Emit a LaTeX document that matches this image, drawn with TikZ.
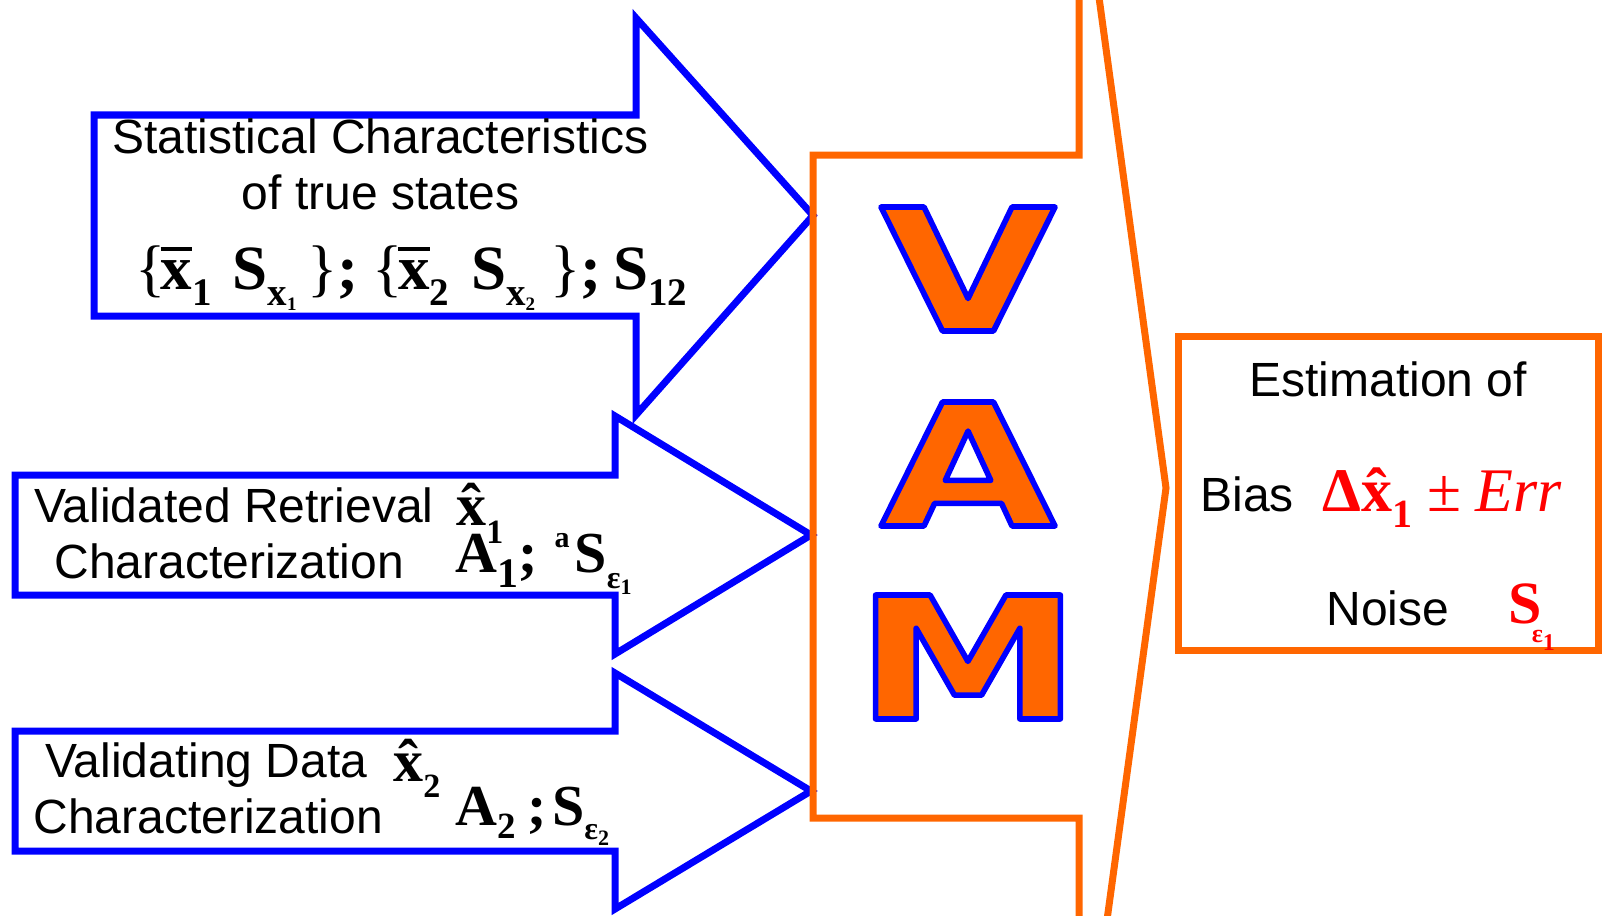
\documentclass[tikz,border=0pt]{standalone}
\usepackage{fontspec}
\usepackage{graphicx}
\setmainfont{Liberation Sans}
\newfontfamily\tms{Liberation Serif}
\newfontfamily\vamfont{DejaVu Sans}[FakeStretch=1.34]
\definecolor{vamorange}{RGB}{255,102,0}
\definecolor{arrowblue}{RGB}{0,0,255}
\definecolor{txtred}{RGB}{255,0,0}
\newcommand\fs[1]{\fontsize{#1}{#1}\selectfont}
\newcommand\lw[3]{\raisebox{-#1}{\fs{#2}#3}}
\newcommand\hi[3]{\raisebox{#1}{\fs{#2}#3}}
\newcommand\barx{\leavevmode\setbox0\hbox{x}\rlap{\rule[0.6em]{\wd0}{0.065em}}\box0}
\newcommand\hatx{\leavevmode\setbox0\hbox{x}\rlap{\hbox to\wd0{\hss ˆ\hss}}\box0}
\newcommand\lb{\makebox[0.4em][l]{\mdseries\{}}
\newcommand\rb{\makebox[0.4em][r]{\mdseries\}}}
\newcommand\outl[1]{\special{pdf:literal direct 0 0 1 RG 2.8 w 1 j 2 Tr}#1\special{pdf:literal direct 0 Tr}}
\tikzset{
  bluearrow/.style={draw=arrowblue, fill=white, line width=3.5pt},
  orangeline/.style={draw=vamorange, line width=3.5pt},
  sans/.style={inner sep=0pt, anchor=base west, font=\fs{24}},
  mathtxt/.style={inner sep=0pt, anchor=base west, font={\tms\bfseries\fs{29}}},
  vamtxt/.style={inner sep=0pt, text=vamorange, font={\vamfont\bfseries\fs{85}}},
}
\begin{document}
\begin{tikzpicture}[x=0.5pt,y=-0.5pt]
\useasboundingbox (0,0) rectangle (1604,915);
\clip (0,0) rectangle (1604,915);
% blue input arrows
\draw[bluearrow] (94,115) -- (636,115) -- (636,18) -- (813,215.5) -- (636,415) -- (636,316) -- (94,316) -- cycle;
\draw[bluearrow] (15,475) -- (615,475) -- (615,416) -- (811,535) -- (615,654) -- (615,595) -- (15,595) -- cycle;
\draw[bluearrow] (15,731) -- (615,731) -- (615,673) -- (811,791) -- (615,909) -- (615,851) -- (15,851) -- cycle;
% orange VAM arrow
\draw[orangeline] (813,155) -- (1079,155) -- (1079,-149) -- (1166,488) -- (1079,1125) -- (1079,818) -- (813,818) -- cycle;
% result box
\draw[orangeline] (1178,336) rectangle (1598,650);
% top arrow text
\node[sans, anchor=base] (stat1) at (380.5,153) {Statistical Characteristics};
\node[sans, anchor=base] (stat2) at (380.5,209) {of true states};
\node[mathtxt] (formA) at (135,289) {\fs{31.5}\lb\barx\lw{8pt}{19.5}{1}\hspace{10.5pt}S\lw{8pt}{19.5}{x\lw{2.5pt}{9.5}{1}}\hspace{8pt}\rb;\hspace{7pt}\lb\barx\lw{8pt}{19.5}{2}\hspace{11pt}S\lw{8pt}{19.5}{x\lw{2.5pt}{9.5}{2}}\hspace{10pt}\rb;\hspace{6pt}S\lw{8pt}{19.5}{12}};
% middle arrow text
\node[sans] (vr1) at (34,522) {Validated Retrieval};
\node[sans] (vr2) at (54,578) {Characterization};
\node[mathtxt] (xh1) at (456,525) {\fs{30}\hatx\lw{9pt}{17}{1}};
\node[mathtxt] (a1) at (455,572) {A\lw{7.5pt}{21}{1};\hspace{8.5pt}\hi{12.5pt}{15}{a}\hspace{2.5pt}S\lw{8pt}{16}{ε\lw{3pt}{11}{1}}};
% bottom arrow text
\node[sans] (vd1) at (45,777) {Validating Data};
\node[sans] (vd2) at (33,833) {Characterization};
\node[mathtxt] (xh2) at (393,781) {\fs{30}\hatx\lw{8pt}{17}{2}};
\node[mathtxt] (a2) at (455,825) {A\lw{6.5pt}{18.5}{2}\hspace{6pt};\hspace{2.5pt}S\lw{7pt}{16}{ε\lw{3pt}{11}{2}}};
% VAM letters
\node[vamtxt] (lv) at (968,269) {\outl{V}};
\node[vamtxt] (la) at (968,464) {\outl{A}};
\node[vamtxt] (lm) at (968,657) {\outl{M}};
% result box text
\node[sans] (est) at (1249,396) {Estimation of};
\node[sans] (bias) at (1200,511) {Bias};
\node[mathtxt, text=txtred] (bf) at (1322,511) {\fs{31}Δ\hatx\lw{8pt}{20}{1}\hspace{7.5pt}{\mdseries ±}\hspace{7pt}{\mdseries\itshape Err}};
\node[sans] (noise) at (1326,625) {Noise};
\node[mathtxt, text=txtred] (se) at (1508,623) {\fs{30}S\hspace{-5pt}\lw{9.5pt}{13}{ε\lw{4pt}{12}{1}}};
\end{tikzpicture}
\end{document}
